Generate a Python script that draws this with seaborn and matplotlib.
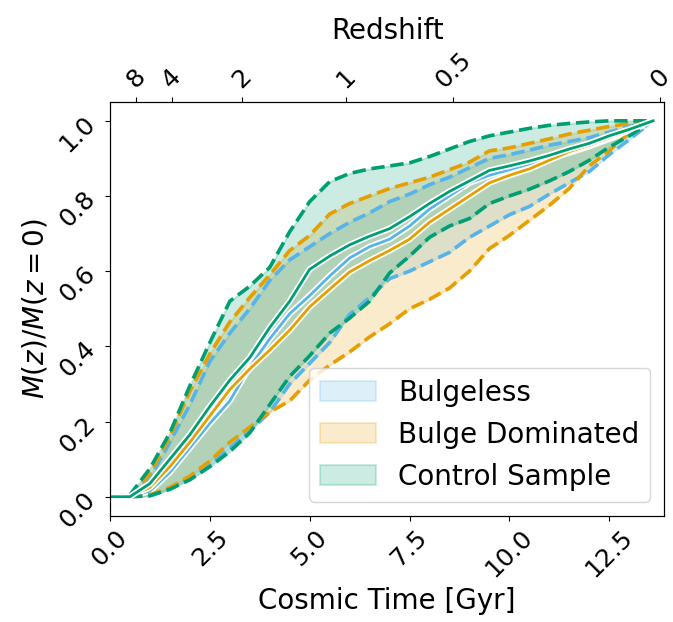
import numpy as np
import pandas as pd
import matplotlib
matplotlib.use("Agg")
import matplotlib.pyplot as plt
import matplotlib.patheffects as pe
import seaborn as sns

# ---------------- data ----------------
time_gyr = [0.0, 0.5, 1.0, 1.5, 2.0, 2.5, 3.0, 3.5, 4.0, 4.5, 5.0, 5.5, 6.0, 6.5,
            7.0, 7.5, 8.0, 8.5, 9.0, 9.5, 10.0, 10.5, 11.0, 11.5, 12.0, 12.5, 13.0, 13.6]

bulgeless_med = [0, 0, 0.015, 0.065, 0.13, 0.195, 0.255, 0.345, 0.42, 0.487, 0.535, 0.587, 0.635, 0.665,
                 0.685, 0.72, 0.765, 0.80, 0.835, 0.855, 0.87, 0.885, 0.90, 0.915, 0.932, 0.952, 0.972, 1.0]
bulgeless_lo = [0, 0, 0.002, 0.02, 0.05, 0.085, 0.13, 0.175, 0.225, 0.30, 0.355, 0.41, 0.485, 0.53,
                0.58, 0.60, 0.625, 0.65, 0.69, 0.72, 0.75, 0.772, 0.805, 0.835, 0.865, 0.91, 0.95, 1.0]
bulgeless_hi = [0, 0, 0.05, 0.145, 0.245, 0.36, 0.435, 0.50, 0.575, 0.63, 0.665, 0.70, 0.73, 0.755,
                0.785, 0.805, 0.83, 0.85, 0.875, 0.90, 0.91, 0.922, 0.935, 0.945, 0.955, 0.97, 0.985, 1.0]

bulge_med = [0, 0, 0.025, 0.08, 0.145, 0.215, 0.285, 0.34, 0.39, 0.443, 0.505, 0.552, 0.598, 0.628,
             0.655, 0.685, 0.73, 0.765, 0.80, 0.835, 0.855, 0.872, 0.895, 0.918, 0.935, 0.955, 0.974, 1.0]
bulge_lo = [0, 0, 0.005, 0.025, 0.055, 0.095, 0.145, 0.185, 0.225, 0.255, 0.31, 0.35, 0.385, 0.425,
            0.46, 0.50, 0.525, 0.555, 0.60, 0.66, 0.695, 0.735, 0.775, 0.82, 0.88, 0.92, 0.968, 1.0]
bulge_hi = [0, 0.002, 0.06, 0.16, 0.28, 0.38, 0.465, 0.53, 0.59, 0.655, 0.695, 0.752, 0.78, 0.80,
            0.82, 0.835, 0.85, 0.87, 0.89, 0.92, 0.928, 0.94, 0.952, 0.965, 0.975, 0.985, 0.993, 1.0]

control_med = [0, 0, 0.035, 0.10, 0.165, 0.24, 0.31, 0.37, 0.45, 0.52, 0.605, 0.64, 0.67, 0.693,
               0.713, 0.745, 0.78, 0.812, 0.84, 0.868, 0.88, 0.893, 0.908, 0.925, 0.94, 0.96, 0.977, 1.0]
control_lo = [0, 0, 0.003, 0.02, 0.045, 0.08, 0.12, 0.17, 0.245, 0.32, 0.375, 0.435, 0.475, 0.52,
              0.595, 0.64, 0.69, 0.72, 0.74, 0.78, 0.80, 0.818, 0.84, 0.865, 0.895, 0.93, 0.96, 1.0]
control_hi = [0, 0.005, 0.075, 0.17, 0.295, 0.41, 0.52, 0.56, 0.61, 0.705, 0.785, 0.838, 0.86, 0.872,
              0.88, 0.888, 0.905, 0.925, 0.945, 0.96, 0.97, 0.98, 0.988, 0.993, 0.997, 1.0, 1.0, 1.0]

sample_names = ["Bulgeless", "Bulge Dominated", "Control Sample"]
sample_colors = ["#56B4E9", "#E69F00", "#009E73"]

redshift_labels = ["8", "4", "2", "1", "0.5", "0"]
redshift_times = [0.65, 1.55, 3.30, 5.90, 8.60, 13.77]

x_ticks = [0.0, 2.5, 5.0, 7.5, 10.0, 12.5]
y_ticks = [0.0, 0.2, 0.4, 0.6, 0.8, 1.0]

# ---------------- plotting ----------------
fig = plt.figure(figsize=(6.73, 6.22), dpi=100)
ax = fig.add_axes([0.1634, 0.1712, 0.9871 - 0.1634, 0.836 - 0.1712])

samples = [
    (bulgeless_med, bulgeless_lo, bulgeless_hi),
    (bulge_med, bulge_lo, bulge_hi),
    (control_med, control_lo, control_hi),
]

for name, color, (med, lo, hi) in zip(sample_names, sample_colors, samples):
    df = pd.DataFrame({"t": time_gyr, "med": med, "lo": lo, "hi": hi})
    ax.fill_between(df["t"], df["lo"], df["hi"], color=color, alpha=0.2, label=name,
                    linewidth=1.5)
    for col in ["lo", "hi"]:
        sns.lineplot(data=df, x="t", y=col, ax=ax, color=color, linestyle="--",
                     linewidth=2.6, legend=False)
    sns.lineplot(data=df, x="t", y="med", ax=ax, color=color, linewidth=2.0, legend=False,
                 path_effects=[pe.Stroke(linewidth=4.5, foreground="white"), pe.Normal()])

ax.set_xlim(0, 13.88)
ax.set_ylim(-0.05, 1.05)
ax.set_xticks(x_ticks)
ax.set_xticklabels([f"{v:.1f}" for v in x_ticks], rotation=45)
ax.set_yticks(y_ticks)
ax.set_yticklabels([f"{v:.1f}" for v in y_ticks], rotation=45)
ax.tick_params(labelsize=18)
ax.set_xlabel("Cosmic Time [Gyr]", fontsize=20)
ax.set_ylabel(r"$M(z)/M(z=0)$", fontsize=20)

ax2 = ax.twiny()
ax2.set_xlim(ax.get_xlim())
ax2.set_xticks(redshift_times)
ax2.set_xticklabels(redshift_labels, rotation=45)
ax2.tick_params(labelsize=18)
ax2.set_xlabel("Redshift", fontsize=20, labelpad=6)

handles, labels = ax.get_legend_handles_labels()
ax.legend(handles, labels, loc="lower right", fontsize=20)

fig.savefig("out.png", dpi=100)
